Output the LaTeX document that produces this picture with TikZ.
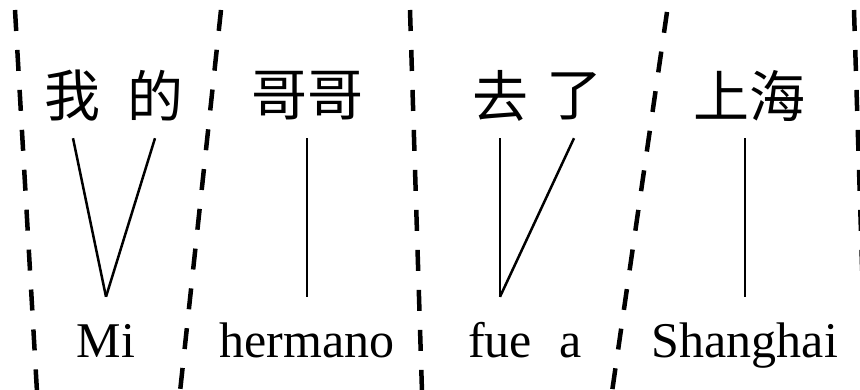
\documentclass[tikz,border=0pt]{standalone}
\usepackage{fontspec}
\setmainfont{Liberation Serif}
\newfontfamily\cjk{Noto Sans CJK SC}
\begin{document}
\begin{tikzpicture}[x=1pt,y=-1pt,
  zh/.style={font=\cjk\fontsize{56}{60}\selectfont, inner sep=0pt, minimum height=84pt},
  es/.style={font=\fontsize{50}{56}\selectfont, anchor=base, text height=36pt, text depth=12pt, inner xsep=0pt, inner ysep=24pt},
  sepline/.style={line width=4.5pt, dash pattern=on 21pt off 19pt},
  link/.style={line width=2.5pt}]
\useasboundingbox (0,0) rectangle (860,390);
\clip (0,0) rectangle (860,390);
% separators
\draw[sepline] (15,10) -- (37,392);
\draw[sepline] (221,10) -- (180,392);
\draw[sepline] (410,10) -- (422,392);
\draw[sepline] (667,12) -- (612,392);
\draw[sepline] (854,10) -- (866,392);
% Chinese
\node[zh] (wo) at (73,96) {我};
\node[zh] (de) at (155,96) {的};
\node[zh] (gege) at (307,96) {哥哥};
\node[zh] (qu) at (500,96) {去};
\node[zh] (le) at (574,96) {了};
\node[zh] (shz) at (749,96) {上海};
% Spanish
\node[es] (mi) at (106,357) {Mi};
\node[es] (hermano) at (307,357) {hermano};
\node[es] (fue) at (500,357) {fue};
\node[es] (a) at (571,357) {a};
\node[es] (sh) at (745,357) {Shanghai};
% links
\draw[link] (wo.south) -- (mi.north);
\draw[link] (de.south) -- (mi.north);
\draw[link] (gege.south) -- (hermano.north);
\draw[link] (qu.south) -- (fue.north);
\draw[link] (le.south) -- (fue.north);
\draw[link] (sh.north |- shz.south) -- (sh.north);
\end{tikzpicture}
\end{document}
